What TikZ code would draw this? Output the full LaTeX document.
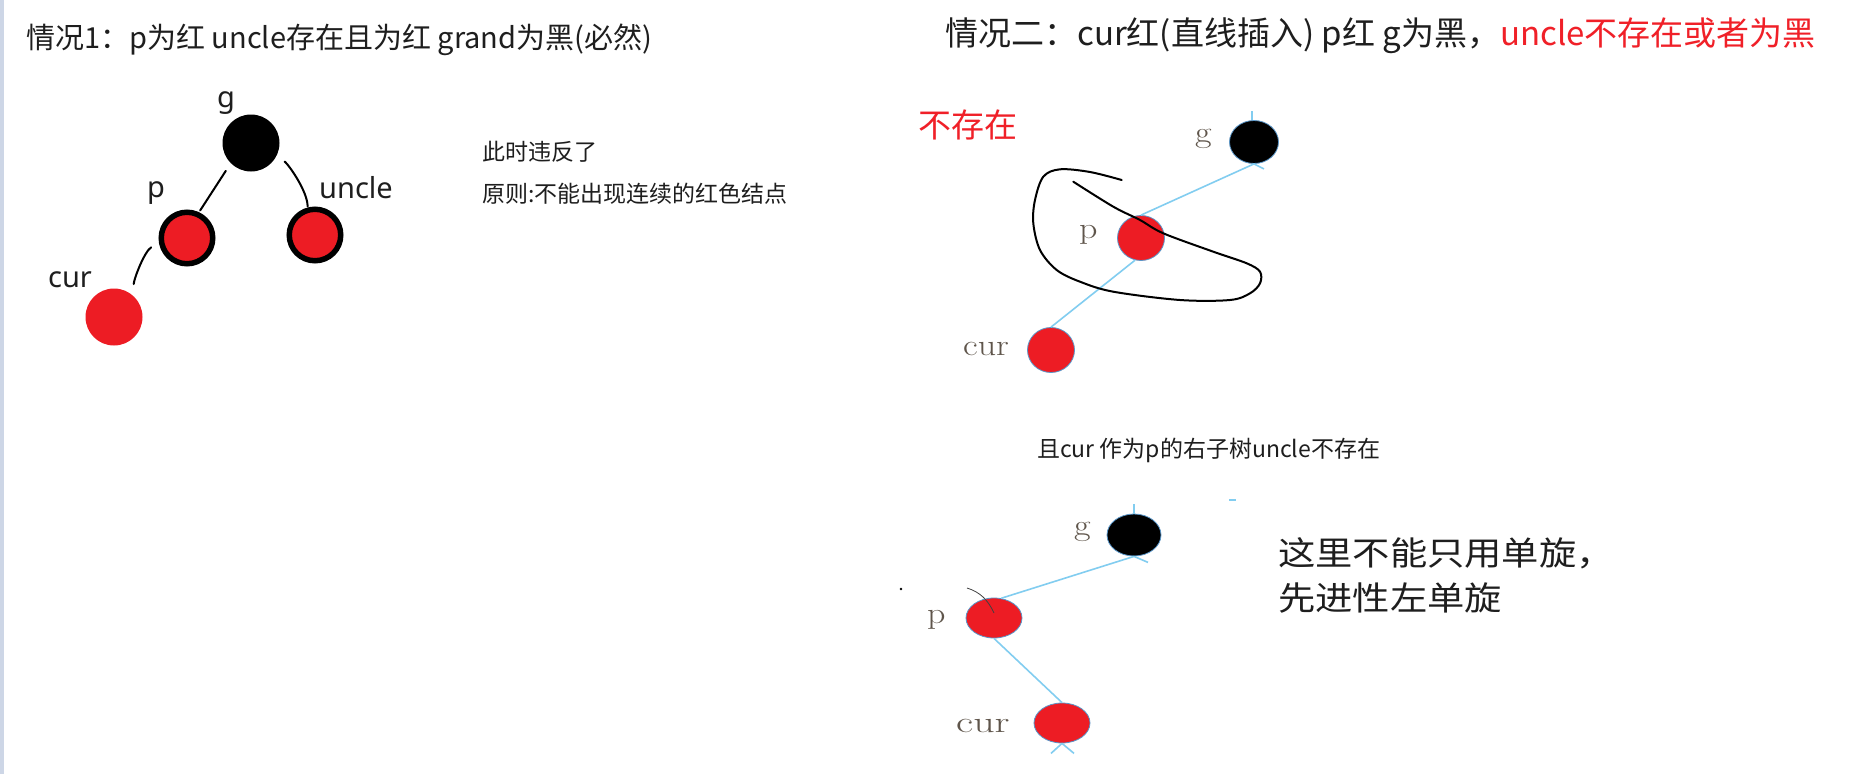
\documentclass[tikz,border=0pt]{standalone}
\usepackage{fontspec}
\newfontfamily\cjk{Noto Sans CJK SC}
\newfontfamily\lblfont{Noto Sans}
\usetikzlibrary{shapes.geometric}
\definecolor{pred}{RGB}{237,28,36}
\definecolor{tred}{RGB}{240,32,40}
\definecolor{sky}{RGB}{130,205,240}
\definecolor{halo}{RGB}{90,150,200}
\definecolor{lblc}{RGB}{95,85,75}
\definecolor{edgec}{RGB}{205,214,230}
\definecolor{txtc}{RGB}{30,30,30}
\tikzset{
  rb/.style={circle, inner sep=0pt, minimum size=57pt},
  blkA/.style={rb, fill=black},
  redbd/.style={rb, minimum size=51.5pt, fill=pred, draw=black, line width=5.5pt},
  redpl/.style={rb, fill=pred},
  ell/.style={ellipse, inner sep=0pt, draw=halo, line width=0.8pt},
  blkB/.style={ell, fill=black},
  redB/.style={ell, fill=pred},
  hand/.style={draw=black, line width=2pt, line cap=round},
  skyline/.style={draw=sky, line width=1.6pt},
  lab1/.style={anchor=base, inner sep=0pt, text=txtc, font=\lblfont\fontsize{29}{34}\selectfont},
  lab2/.style={anchor=base west, inner sep=0pt, text=lblc, font=\fontsize{30}{34}\selectfont},
  txt/.style={anchor=base west, inner sep=0pt, text=txtc},
}
\begin{document}
\begin{tikzpicture}[x=1pt,y=-1pt]
\useasboundingbox (0,0) rectangle (1864,774);
\fill[white] (0,0) rectangle (1864,774);
\fill[edgec] (0,0) rectangle (4,774);

% ---- titles ----
\node[txt, font=\cjk\fontsize{29}{35}\selectfont] (t1) at (26,48.6) {情况1：p为红 uncle存在且为红 grand为黑(必然)};
\node[txt, font=\cjk\fontsize{33}{40}\selectfont] (t2) at (945,45.5) {情况二：cur红(直线插入) p红 g为黑，\textcolor{tred}{uncle不存在或者为黑}};

% ---- case 1 ----
\node[blkA] (g1) at (251,143) {};
\node[redbd] (p1) at (187,238) {};
\node[redbd] (u1) at (315,235) {};
\node[redpl] (c1) at (114,317) {};
\node[lab1] (g1l) at (226,107) {g};
\node[lab1] (p1l) at (156,197) {p};
\node[lab1] (u1l) at (356,198) {uncle};
\node[lab1] (c1l) at (70,287) {cur};
\draw[hand, shorten <=9pt, shorten >=2pt] (g1.225) -- (p1.65);
\draw[hand, shorten <=10pt, shorten >=1pt] (g1.335) .. controls +(12,10) and +(0,-16) .. (u1.105);
\draw[hand, shorten <=9pt, shorten >=11pt] (p1.190) .. controls +(-14,8) and +(2,-18) .. (c1.50);

\node[txt, font=\cjk\fontsize{23}{28}\selectfont] (n1) at (482,160.7) {此时违反了};
\node[txt, font=\cjk\fontsize{23}{28}\selectfont] (n2) at (482,202.7) {原则:不能出现连续的红色结点};

% ---- case 2, top ----
\node[txt, text=tred, font=\cjk\fontsize{33}{40}\selectfont] (n3) at (918,137.5) {不存在};
\node[blkB, minimum width=49pt, minimum height=43pt] (g2) at (1254,142) {};
\node[redB, minimum width=47pt, minimum height=45pt] (p2) at (1141,238) {};
\node[redB, minimum width=47pt, minimum height=45pt] (c2) at (1051,350) {};
\node[lab2] (g2l) at (1195,142) {\scalebox{1.2}[1]{g}};
\node[lab2] (p2l) at (1079,238) {\scalebox{1.2}[1]{p}};
\node[lab2] (c2l) at (963,355) {\scalebox{1.2}[1]{cur}};
\draw[skyline] (g2.south) -- (p2.north);
\draw[skyline] (p2.255) -- (c2.north);
\draw[skyline] (g2.95) -- ++(0,-9);
\draw[skyline] (g2.south) -- ++(10,5);
\draw[line width=2pt, line cap=round, black] plot[smooth, tension=0.55] coordinates {
 (1121.7,180) (1090,172) (1060,169.3) (1043.3,176.7) (1035,200) (1033.3,223.3) (1040,250)
 (1056.7,270) (1080,281.7) (1113.3,291.7) (1180,300) (1230,300) (1250,293.3)
 (1260,283.3) (1260,271.7) (1246.7,263.3) (1213.3,251.7) (1163.3,233.3)
 (1140,220) (1113.3,206.7) (1073.3,181.7)};

% ---- case 2, bottom ----
\node[txt, font=\cjk\fontsize{23}{28}\selectfont] (n4) at (1037,457) {且cur 作为p的右子树uncle不存在};
\node[blkB, minimum width=54pt, minimum height=42pt] (g3) at (1134,535) {};
\node[redB, minimum width=56pt, minimum height=40pt] (p3) at (994,618) {};
\node[redB, minimum width=56pt, minimum height=40pt] (c3) at (1062,723) {};
\node[lab2] (g3l) at (1074,535) {\scalebox{1.2}[1]{g}};
\node[lab2] (p3l) at (927,623) {\scalebox{1.2}[1]{p}};
\node[lab2] (c3l) at (956,732) {\scalebox{1.4}[1]{cur}};
\draw[skyline] (g3.south) -- (p3.70);
\draw[skyline] (p3.south) -- (c3.north);
\draw[skyline] (g3.north) -- ++(0,-10);
\draw[skyline] (g3.south) -- ++(14,6);
\draw[skyline] (c3.south) -- ++(-11,10);
\draw[skyline] (c3.south) -- ++(12,10);
\draw[skyline] (1229,500) -- (1236,500);
\draw[line width=0.8pt, black!75] (967,588) .. controls (980,592) and (988,600) .. (994,613);
\fill[black] (901,589) circle (1.3);

\node[txt, font=\cjk\fontsize{33}{40}\selectfont] (n5) at (1278,565.5) {\scalebox{1.13}[1]{这里不能只用单旋，}};
\node[txt, font=\cjk\fontsize{33}{40}\selectfont] (n6) at (1278,610) {\scalebox{1.13}[1]{先进性左单旋}};
\end{tikzpicture}
\end{document}
